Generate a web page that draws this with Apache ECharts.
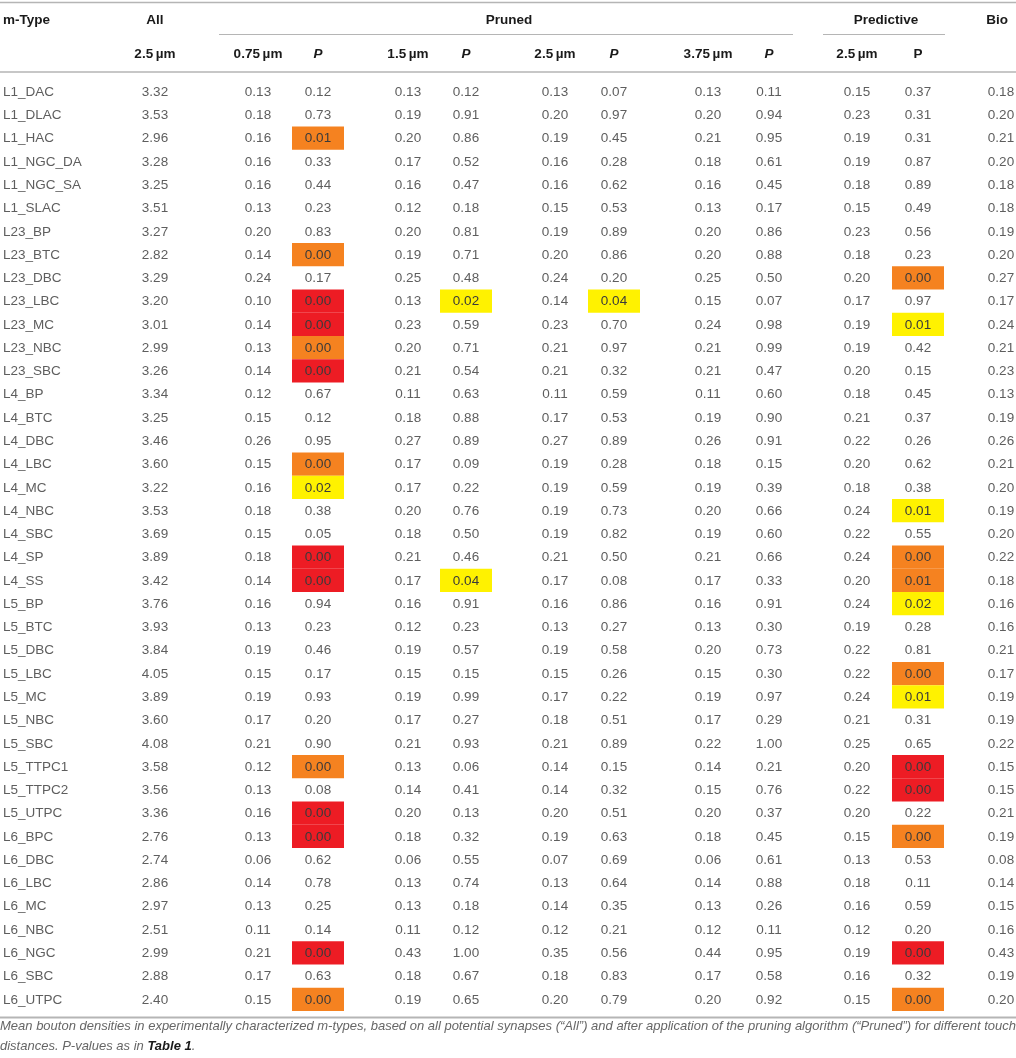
<!DOCTYPE html>
<html>
<head>
<meta charset="utf-8">
<title>Mean bouton densities</title>
<script src="https://cdn.jsdelivr.net/npm/echarts@6.0.0/dist/echarts.min.js"></script>
<style>
  html, body { margin: 0; padding: 0; background: #fff; }
  #table-chart { width: 1016px; height: 1058px; }
</style>
</head>
<body>
<div id="table-chart"></div>
<script>
// ---- data ----
const mTypes = ['L1_DAC','L1_DLAC','L1_HAC','L1_NGC_DA','L1_NGC_SA','L1_SLAC','L23_BP','L23_BTC','L23_DBC','L23_LBC',
  'L23_MC','L23_NBC','L23_SBC','L4_BP','L4_BTC','L4_DBC','L4_LBC','L4_MC','L4_NBC','L4_SBC',
  'L4_SP','L4_SS','L5_BP','L5_BTC','L5_DBC','L5_LBC','L5_MC','L5_NBC','L5_SBC','L5_TTPC1',
  'L5_TTPC2','L5_UTPC','L6_BPC','L6_DBC','L6_LBC','L6_MC','L6_NBC','L6_NGC','L6_SBC','L6_UTPC'];

const all25 = [3.32,3.53,2.96,3.28,3.25,3.51,3.27,2.82,3.29,3.20, 3.01,2.99,3.26,3.34,3.25,3.46,3.60,3.22,3.53,3.69,
  3.89,3.42,3.76,3.93,3.84,4.05,3.89,3.60,4.08,3.58, 3.56,3.36,2.76,2.74,2.86,2.97,2.51,2.99,2.88,2.40];

const pruned075 = [0.13,0.18,0.16,0.16,0.16,0.13,0.20,0.14,0.24,0.10, 0.14,0.13,0.14,0.12,0.15,0.26,0.15,0.16,0.18,0.15,
  0.18,0.14,0.16,0.13,0.19,0.15,0.19,0.17,0.21,0.12, 0.13,0.16,0.13,0.06,0.14,0.13,0.11,0.21,0.17,0.15];
const p075 = [0.12,0.73,0.01,0.33,0.44,0.23,0.83,0.00,0.17,0.00, 0.00,0.00,0.00,0.67,0.12,0.95,0.00,0.02,0.38,0.05,
  0.00,0.00,0.94,0.23,0.46,0.17,0.93,0.20,0.90,0.00, 0.08,0.00,0.00,0.62,0.78,0.25,0.14,0.00,0.63,0.00];

const pruned15 = [0.13,0.19,0.20,0.17,0.16,0.12,0.20,0.19,0.25,0.13, 0.23,0.20,0.21,0.11,0.18,0.27,0.17,0.17,0.20,0.18,
  0.21,0.17,0.16,0.12,0.19,0.15,0.19,0.17,0.21,0.13, 0.14,0.20,0.18,0.06,0.13,0.13,0.11,0.43,0.18,0.19];
const p15 = [0.12,0.91,0.86,0.52,0.47,0.18,0.81,0.71,0.48,0.02, 0.59,0.71,0.54,0.63,0.88,0.89,0.09,0.22,0.76,0.50,
  0.46,0.04,0.91,0.23,0.57,0.15,0.99,0.27,0.93,0.06, 0.41,0.13,0.32,0.55,0.74,0.18,0.12,1.00,0.67,0.65];

const pruned25 = [0.13,0.20,0.19,0.16,0.16,0.15,0.19,0.20,0.24,0.14, 0.23,0.21,0.21,0.11,0.17,0.27,0.19,0.19,0.19,0.19,
  0.21,0.17,0.16,0.13,0.19,0.15,0.17,0.18,0.21,0.14, 0.14,0.20,0.19,0.07,0.13,0.14,0.12,0.35,0.18,0.20];
const p25 = [0.07,0.97,0.45,0.28,0.62,0.53,0.89,0.86,0.20,0.04, 0.70,0.97,0.32,0.59,0.53,0.89,0.28,0.59,0.73,0.82,
  0.50,0.08,0.86,0.27,0.58,0.26,0.22,0.51,0.89,0.15, 0.32,0.51,0.63,0.69,0.64,0.35,0.21,0.56,0.83,0.79];

const pruned375 = [0.13,0.20,0.21,0.18,0.16,0.13,0.20,0.20,0.25,0.15, 0.24,0.21,0.21,0.11,0.19,0.26,0.18,0.19,0.20,0.19,
  0.21,0.17,0.16,0.13,0.20,0.15,0.19,0.17,0.22,0.14, 0.15,0.20,0.18,0.06,0.14,0.13,0.12,0.44,0.17,0.20];
const p375 = [0.11,0.94,0.95,0.61,0.45,0.17,0.86,0.88,0.50,0.07, 0.98,0.99,0.47,0.60,0.90,0.91,0.15,0.39,0.66,0.60,
  0.66,0.33,0.91,0.30,0.73,0.30,0.97,0.29,1.00,0.21, 0.76,0.37,0.45,0.61,0.88,0.26,0.11,0.95,0.58,0.92];

const predictive25 = [0.15,0.23,0.19,0.19,0.18,0.15,0.23,0.18,0.20,0.17, 0.19,0.19,0.20,0.18,0.21,0.22,0.20,0.18,0.24,0.22,
  0.24,0.20,0.24,0.19,0.22,0.22,0.24,0.21,0.25,0.20, 0.22,0.20,0.15,0.13,0.18,0.16,0.12,0.19,0.16,0.15];
const pPredictive = [0.37,0.31,0.31,0.87,0.89,0.49,0.56,0.23,0.00,0.97, 0.01,0.42,0.15,0.45,0.37,0.26,0.62,0.38,0.01,0.55,
  0.00,0.01,0.02,0.28,0.81,0.00,0.01,0.31,0.65,0.00, 0.00,0.22,0.00,0.53,0.11,0.59,0.20,0.00,0.32,0.00];

const bio = [0.18,0.20,0.21,0.20,0.18,0.18,0.19,0.20,0.27,0.17, 0.24,0.21,0.23,0.13,0.19,0.26,0.21,0.20,0.19,0.20,
  0.22,0.18,0.16,0.16,0.21,0.17,0.19,0.19,0.22,0.15, 0.15,0.21,0.19,0.08,0.14,0.15,0.16,0.43,0.19,0.20];

// significance highlight per P cell: 0 none, 1 yellow, 2 orange, 3 red
const sig075 = [0,0,2,0,0,0,0,2,0,3, 3,2,3,0,0,0,2,1,0,0, 3,3,0,0,0,0,0,0,0,2, 0,3,3,0,0,0,0,3,0,2];
const sig15  = [0,0,0,0,0,0,0,0,0,1, 0,0,0,0,0,0,0,0,0,0, 0,1,0,0,0,0,0,0,0,0, 0,0,0,0,0,0,0,0,0,0];
const sig25  = [0,0,0,0,0,0,0,0,0,1, 0,0,0,0,0,0,0,0,0,0, 0,0,0,0,0,0,0,0,0,0, 0,0,0,0,0,0,0,0,0,0];
const sig375 = [0,0,0,0,0,0,0,0,0,0, 0,0,0,0,0,0,0,0,0,0, 0,0,0,0,0,0,0,0,0,0, 0,0,0,0,0,0,0,0,0,0];
const sigPredictive = [0,0,0,0,0,0,0,0,2,0, 1,0,0,0,0,0,0,0,1,0, 2,2,1,0,0,2,1,0,0,3, 3,0,2,0,0,0,0,3,0,2];

const headerTop = ['m-Type', 'All', 'Pruned', 'Predictive', 'Bio'];
const headerSub = ['2.5\u2009\u00b5m', '0.75\u2009\u00b5m', 'P', '1.5\u2009\u00b5m', 'P', '2.5\u2009\u00b5m', 'P',
  '3.75\u2009\u00b5m', 'P', '2.5\u2009\u00b5m', 'P'];
const caption = 'Mean bouton densities in experimentally characterized m-types, based on all potential synapses (\u201cAll\u201d) and after application of the pruning algorithm (\u201cPruned\u201d) for different touch';
const caption2 = 'distances. P-values as in ';

// ---- layout / style ----
const FONT = '"Liberation Sans", Arial, sans-serif';
const TEXT_COLOR = '#5e5e5e';
const CELL_TEXT = '#3a3a3a';
const HEAD_COLOR = '#1a1a1a';
const RULE_COLOR = '#b5b5b5';
const SIG_COLORS = [null, '#fff200', '#f58220', '#ed1c24'];
const CELL_W = 52;

// column centres in px (x axis runs 0..1016 across the page)
const columns = [
  { values: all25, x: 155 },
  { values: pruned075, x: 258 },
  { values: p075, x: 318, sig: sig075 },
  { values: pruned15, x: 408 },
  { values: p15, x: 466, sig: sig15 },
  { values: pruned25, x: 555 },
  { values: p25, x: 614, sig: sig25 },
  { values: pruned375, x: 708 },
  { values: p375, x: 769, sig: sig375 },
  { values: predictive25, x: 857 },
  { values: pPredictive, x: 918, sig: sigPredictive },
  { values: bio, x: 1001 }
];

function textSeries(strings, x, align, sig) {
  return {
    type: 'custom',
    silent: true,
    z: 3,
    data: strings.map((s, i) => [x, i]),
    encode: { x: 0, y: 1 },
    renderItem: function (params, api) {
      const p = api.coord([api.value(0), api.value(1)]);
      const marked = sig && sig[params.dataIndex] > 0;
      return {
        type: 'text',
        x: p[0],
        y: p[1] + 0.5,
        style: {
          text: strings[params.dataIndex],
          fill: marked ? CELL_TEXT : TEXT_COLOR,
          font: '13.5px ' + FONT,
          align: align,
          verticalAlign: 'middle'
        }
      };
    }
  };
}

function cellSeries(col) {
  const data = [];
  col.sig.forEach((level, i) => { if (level > 0) data.push([col.x, i, level]); });
  return {
    type: 'custom',
    silent: true,
    z: 2,
    data: data,
    encode: { x: 0, y: 1 },
    renderItem: function (params, api) {
      const c = api.coord([api.value(0), api.value(1)]);
      const s = api.size([CELL_W, 1]);
      return {
        type: 'rect',
        shape: { x: c[0] - s[0] / 2, y: c[1] - s[1] / 2, width: s[0], height: s[1] },
        style: { fill: SIG_COLORS[api.value(2)] }
      };
    }
  };
}

const series = [textSeries(mTypes, 3, 'left')];
columns.forEach(col => {
  if (col.sig) series.push(cellSeries(col));
  series.push(textSeries(col.values.map(v => v.toFixed(2)), col.x, 'center', col.sig));
});

function headText(text, x, y, align, italic) {
  return {
    type: 'text', x: x, y: y, z: 5,
    style: {
      text: text, fill: HEAD_COLOR, align: align || 'center', verticalAlign: 'middle',
      font: (italic ? 'italic ' : '') + 'bold 13.5px ' + FONT
    }
  };
}
function rule(x1, x2, y, w) {
  return { type: 'line', z: 5, shape: { x1: x1, y1: y, x2: x2, y2: y }, style: { stroke: RULE_COLOR, lineWidth: w } };
}

const subX = [155, 258, 318, 408, 466, 555, 614, 708, 769, 857, 918];
const graphics = [
  rule(0, 1016, 2.5, 1.5),
  rule(219, 793, 34.5, 1),
  rule(823, 945, 34.5, 1),
  rule(0, 1016, 72, 1.5),
  rule(0, 1016, 1017.5, 2),
  headText(headerTop[0], 3, 20, 'left'),
  headText(headerTop[1], 155, 20),
  headText(headerTop[2], 509, 20),
  headText(headerTop[3], 886, 20),
  headText(headerTop[4], 997, 20)
];
headerSub.forEach((h, i) => {
  // pruned P headers are italic, predictive one is upright
  graphics.push(headText(h, subX[i], 54, 'center', h === 'P' && i < 10));
});
graphics.push({
  type: 'text', x: 0, y: 1026, z: 5,
  style: {
    text: caption, fill: '#666', verticalAlign: 'middle',
    font: 'italic 13px "Liberation Sans Narrow", ' + FONT
  }
});
graphics.push({
  type: 'text', x: 0, y: 1046, z: 5,
  style: {
    text: caption2 + '{b|Table 1}.', fill: '#666', verticalAlign: 'middle',
    font: 'italic 13px "Liberation Sans Narrow", ' + FONT,
    rich: { b: { fontWeight: 'bold', fontStyle: 'italic', fill: HEAD_COLOR, fontSize: 13, fontFamily: '"Liberation Sans Narrow", ' + FONT } }
  }
});

const chart = echarts.init(document.getElementById('table-chart'));
chart.setOption({
  animation: false,
  backgroundColor: '#fff',
  grid: { left: 0, right: 0, top: 80, bottom: 47 },
  xAxis: { type: 'value', min: 0, max: 1016, show: false },
  yAxis: { type: 'category', data: mTypes, inverse: true, show: false },
  series: series,
  graphic: graphics
});
</script>
</body>
</html>
